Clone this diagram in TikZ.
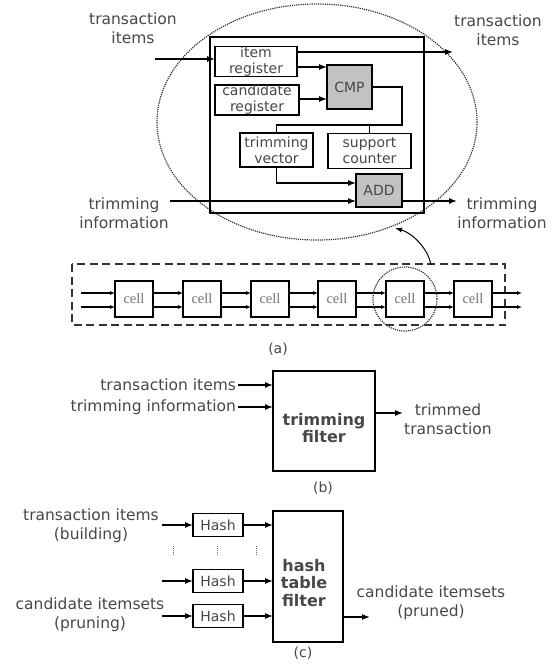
\documentclass[tikz,border=0pt]{standalone}
\usepackage{fontspec}
\setmainfont{DejaVu Sans}
\newfontfamily\cellfont{Liberation Serif}
\usetikzlibrary{arrows.meta,calc}
\definecolor{txt}{HTML}{474747}
\definecolor{fillg}{HTML}{C2C2C2}
\begin{document}
\begin{tikzpicture}[x=1pt,y=-1pt,
  every node/.style={inner sep=0pt,outer sep=0pt},
  lbl/.style={text=txt,font=\fontsize{15.5}{19.5}\selectfont,align=center},
  ilbl/.style={text=txt,font=\fontsize{14}{16}\selectfont,align=center},
  blbl/.style={text=txt,font=\fontsize{16}{17.5}\selectfont\bfseries,align=center},
  ibox/.style={draw,line width=1.3pt,ilbl,minimum width=#1},
  gbox/.style={draw,line width=1.3pt,fill=fillg,ilbl},
  cellbox/.style={draw,line width=1.8pt,minimum width=38pt,minimum height=36pt,text=black!55,font=\cellfont\fontsize{14.5}{16}\selectfont},
  hbox/.style={draw,line width=1.4pt,minimum width=50pt,minimum height=23pt,ilbl},
  arr/.style={-{Latex[length=8pt,width=6pt]},line width=1.2pt},
  sarr/.style={-{Latex[length=5pt,width=4pt]},line width=1.2pt},
  ln/.style={line width=1.2pt},
  captxt/.style={text=txt,font=\fontsize{14}{16}\selectfont}
]
\useasboundingbox (0,0) rectangle (555,670);

% ---------- (a) top: cell detail ----------
\draw[densely dotted,line width=1.2pt,black!80] (317,122) ellipse [x radius=160,y radius=118];
\node[draw,line width=2pt,minimum width=214pt,minimum height=176pt] (big) at (317,125) {};

\node[ibox=82pt,minimum height=29pt] (ir) at (256,61.5) {item\\register};
\node[ibox=84pt,minimum height=30pt] (cr) at (257,100) {candidate\\register};
\node[gbox,minimum width=45pt,minimum height=44pt] (cmp) at (349.5,87) {CMP};
\node[ibox=73pt,minimum height=34pt] (tv) at (276.5,150) {trimming\\vector};
\node[ibox=83pt,minimum height=35pt] (sc) at (369.5,151) {support\\counter};
\node[gbox,minimum width=46pt,minimum height=33pt] (add) at (379,190.5) {ADD};

\coordinate (tin) at (155,59);
\coordinate (tout) at (453,52);
\coordinate (trin) at (170,201);
\coordinate (trout) at (457,201);

\draw[arr] (tin) -- (tin -| ir.west);
\draw[arr] (ir.east |- tout) -- (tout);
\draw[arr] (ir.east |- 0,67) -- (cmp.west |- 0,67);
\draw[arr] (cr.east |- 0,99) -- (cmp.west |- 0,99);
\draw[ln] (cmp.east) -- (402,87) -- (402,125) -- (tv.north |- 0,125) -- (tv.north);
\draw[ln] (sc.north |- 0,125) -- (sc.north);
\draw[arr] (tv.south) -- (tv.south |- 0,183) -- (add.west |- 0,183);
\draw[arr] (trin) -- (trin -| add.west);
\draw[arr] (add.east |- trout) -- (trout);

\node[lbl] (l1) at (133,28) {transaction\\items};
\node[lbl] (l2) at (498,30) {transaction\\items};
\node[lbl] (l3) at (124,213) {trimming\\information};
\node[lbl] (l4) at (502,213) {trimming\\information};

% ---------- (a) bottom: cell array ----------
\draw[dash pattern=on 8pt off 4.5pt,line width=1.3pt,black!80] (72,264) rectangle (505,325);
\foreach \i/\x in {1/134,2/202,3/270,4/337,5/405,6/473}{
  \node[cellbox] (c\i) at (\x,299) {cell};
}
\coordinate (ain1) at (81,293);
\coordinate (ain2) at (81,307);
\coordinate (aout1) at (522,293);
\coordinate (aout2) at (522,307);
\draw[sarr] (ain1) -- (ain1 -| c1.west);
\draw[sarr] (ain2) -- (ain2 -| c1.west);
\foreach \a/\b in {1/2,2/3,3/4,4/5,5/6}{
  \draw[sarr] (c\a.east |- ain1) -- (c\b.west |- ain1);
  \draw[sarr] (c\a.east |- ain2) -- (c\b.west |- ain2);
}
\draw[sarr] (c6.east |- aout1) -- (aout1);
\draw[sarr] (c6.east |- aout2) -- (aout2);
\draw[densely dotted,line width=1.2pt,black!80] (c5.center) circle [radius=32];
\coordinate (cs) at (431,265);
\coordinate (ce) at (395,228);
\draw[-{Latex[length=7pt,width=5pt]},line width=1pt] (cs) .. controls (428,248) and (412,233) .. (ce);
\node[captxt] (capa) at (278,349) {(a)};

% ---------- (b) ----------
\node[draw,line width=2pt,minimum width=102pt,minimum height=100pt] (tf) at (324,421) {};
\node[blbl] (tft) at (324,428) {trimming\\filter};
\node[lbl,anchor=east] (b1) at (236,385) {transaction items};
\node[lbl,anchor=east] (b2) at (236,407) {trimming information};
\draw[arr] ([xshift=2pt]b1.east) -- (tf.west |- b1.east);
\draw[arr] ([xshift=2pt]b2.east) -- (tf.west |- b2.east);
\coordinate (bout) at (403,413);
\draw[arr] (tf.east |- bout) -- (bout);
\node[lbl] (b3) at (448,419) {trimmed\\transaction};
\node[captxt] (capb) at (323,488) {(b)};

% ---------- (c) ----------
\node[draw,line width=2pt,minimum width=70pt,minimum height=131pt] (htf) at (308,576.5) {};
\node[blbl] (htft) at (304,583) {hash\\table\\filter};
\node[hbox] (h1) at (218,525) {Hash};
\node[hbox] (h2) at (218,581) {Hash};
\node[hbox] (h3) at (218,616) {Hash};
\foreach \i in {1,2,3}{
  \coordinate (hin\i) at (162,0 |- h\i.west);
  \draw[arr] (hin\i) -- (h\i.west);
  \draw[arr] (h\i.east) -- (htf.west |- h\i.east);
}
\foreach \x in {173,217,256}{
  \draw[densely dotted,line width=1pt,black!55] (\x,546) -- (\x,556);
}
\node[lbl] (c1t) at (91,525.5) {transaction items\\(building)};
\node[lbl] (c2t) at (90,614.5) {candidate itemsets\\(pruning)};
\coordinate (cout) at (370,617);
\draw[arr] (htf.east |- cout) -- (cout);
\node[lbl] (c3t) at (431,602.5) {candidate itemsets\\(pruned)};
\node[captxt] (capc) at (303,653) {(c)};
\end{tikzpicture}
\end{document}
